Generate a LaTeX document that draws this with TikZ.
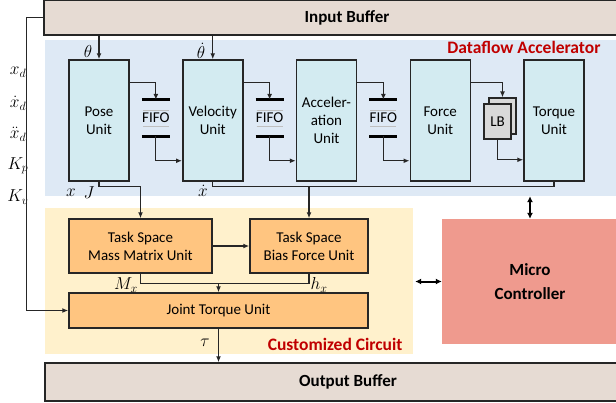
\documentclass[tikz,border=0pt]{standalone}
\usepackage{fontspec}
\setmainfont{Carlito}
\usepackage{tikz}
\usetikzlibrary{calc, positioning, arrows.meta}

\definecolor{bufferfill}{RGB}{230,219,211}
\definecolor{dfabg}{RGB}{222,233,245}
\definecolor{unitfill}{RGB}{211,235,241}
\definecolor{ccbg}{RGB}{255,241,204}
\definecolor{ccfill}{RGB}{255,197,128}
\definecolor{microfill}{RGB}{239,154,142}
\definecolor{lbfill}{RGB}{217,217,217}
\definecolor{titlered}{RGB}{192,0,0}

\begin{document}
\begin{tikzpicture}[
    x=1pt, y=-1pt,
    box/.style={draw=black!85, line width=1.5pt, align=center, inner sep=0pt,
      font=\fontsize{15}{18}\selectfont},
    unit/.style={box, fill=unitfill, minimum width=60pt, minimum height=121pt},
    ccbox/.style={box, fill=ccfill},
    buffer/.style={box, fill=bufferfill, minimum width=606pt,
      font=\fontsize{17}{20}\selectfont\bfseries},
    bgnode/.style={inner sep=0pt},
    fifo/.style={inner sep=0pt, minimum width=19pt, minimum height=36pt,
      font=\fontsize{15}{18}\selectfont},
    bar/.style={line width=3pt},
    lbbox/.style={draw=black!85, line width=1.2pt, fill=lbfill, inner sep=0pt,
      font=\fontsize{15}{18}\selectfont},
    title/.style={text=titlered, font=\fontsize{17.5}{20}\selectfont\bfseries},
    mlabel/.style={inner sep=0pt, font=\fontsize{17}{19}\selectfont},
    line/.style={line width=1.2pt, draw=black!85},
    arr/.style={line, -{Latex[length=6pt, width=5pt]}},
    dbl/.style={line width=2pt, {Latex[length=6pt, width=6pt]}-{Latex[length=6pt, width=6pt]}}
  ]
  \useasboundingbox (0,0) rectangle (616,402);

  % backgrounds
  \node[bgnode, fill=dfabg, minimum width=575pt, minimum height=156pt] (dfa) at (332.5,118) {};
  \node[bgnode, fill=ccbg, minimum width=368pt, minimum height=146pt] (cc) at (229,281) {};
  \node[title, anchor=east] (dfatitle) at (604,47) {Dataflow Accelerator};
  \node[title, anchor=east] (cctitle) at (406,344) {Customized Circuit};

  % buffers
  \node[buffer, minimum height=35pt] (inbuf) at (347,17.5) {Input Buffer};
  \node[buffer, minimum height=38pt] (outbuf) at (348,382) {Output Buffer};

  % dataflow units
  \foreach \txt [count=\i] in {Pose\\Unit, Velocity\\Unit, Acceler-\\ation\\Unit, Force\\Unit, Torque\\Unit} {
    \node[unit] (u\i) at ({99+113.75*(\i-1)}, 120.5) {\txt};
  }

  % fifos between units
  \foreach \i in {1,2,3} {
    \pgfmathtruncatemacro\j{\i+1}
    \node[fifo] (f\i) at ($(u\i.east)!0.5!(u\j.west)+(0,-2.5)$) {FIFO};
    \draw[bar] (f\i.north west) -- (f\i.north east);
    \draw[bar] (f\i.south west) -- (f\i.south east);
    \draw[black!25, line width=0.8pt] ($(f\i.west)+(1,-8)$) -- ($(f\i.east)+(-1,-8)$);
    \draw[black!25, line width=0.8pt] ($(f\i.west)+(1,8)$) -- ($(f\i.east)+(-1,8)$);
    \draw[arr] ($(u\i.north east)+(0,23)$) -| (f\i.north);
    \draw[arr] (f\i.south) |- ($(u\j.south west)+(0,-21)$);
  }

  % line buffer
  \node[lbbox, minimum width=27pt, minimum height=36pt] (lbback) at (502.5,116) {};
  \node[lbbox, minimum width=27pt, minimum height=35pt] (lb) at (497.5,121.5) {LB};
  \draw[arr] ($(u4.north east)+(0,23)$) -| (lbback.north);
  \draw[arr] (lb.south) |- ($(u5.south west)+(0,-22)$);

  % inputs
  \draw[arr] (u1.north |- inbuf.south) -- (u1.north);
  \draw[arr] (u2.north |- inbuf.south) -- (u2.north);
  \node[mlabel] (theta) at (88,51) {$\theta$};
  \node[mlabel] (dtheta) at (201,51) {$\dot{\theta}$};

  \foreach \lbl [count=\i] in {x_d, \dot{x}_d, \ddot{x}_d, K_p, K_v} {
    \node[mlabel] (in\i) at (18, {72+31.3*(\i-1)}) {$\lbl$};
  }

  % customized circuit
  \node[ccbox, minimum width=143pt, minimum height=54pt] (mass) at (140.5,246) {Task Space\\Mass Matrix Unit};
  \node[ccbox, minimum width=118pt, minimum height=54pt] (bias) at (309,246) {Task Space\\Bias Force Unit};
  \node[ccbox, minimum width=299pt, minimum height=35pt] (joint) at (218.5,310.5) {Joint Torque Unit};

  % micro controller
  \node[bgnode, fill=microfill, minimum width=176pt, minimum height=125pt, align=center,
    font=\fontsize{17}{24}\selectfont\bfseries] (micro) at (530,281.5) {Micro\\Controller};

  % connections
  \draw[arr] (inbuf.west) -- ++(-17,0) |- (joint.west);

  \draw[arr] (u1.south) -- ++(0,5) -| (mass.north);
  \coordinate (vbus) at ($(u2.south)+(0,5)$);
  \draw[line] (u2.south) -- (vbus) -| (u5.south);
  \draw[arr] (vbus -| bias.north) -- (bias.north);
  \node[mlabel] (xlbl) at (71,193) {$x$};
  \node[mlabel] (jlbl) at (89,193) {$J$};
  \node[mlabel] (xdot) at (203,191) {$\dot{x}$};

  \draw[arr] (mass.east) -- (bias.west);
  \coordinate (mbus) at ($(mass.south)+(0,10)$);
  \draw[line] (mass.south) -- (mbus) -| (bias.south);
  \draw[arr] (mbus -| joint.north) -- (joint.north);
  \node[mlabel] (mx) at (126,285) {$M_x$};
  \node[mlabel] (hx) at (319,285) {$h_x$};

  \draw[arr] (joint.south) -- (joint.south |- outbuf.north);
  \node[mlabel] (tau) at (205,343) {$\tau$};

  \draw[dbl] (micro.north |- dfa.south) -- (micro.north);
  \draw[dbl, shorten <=2pt] (cc.east |- micro.west) -- (micro.west);
\end{tikzpicture}
\end{document}
